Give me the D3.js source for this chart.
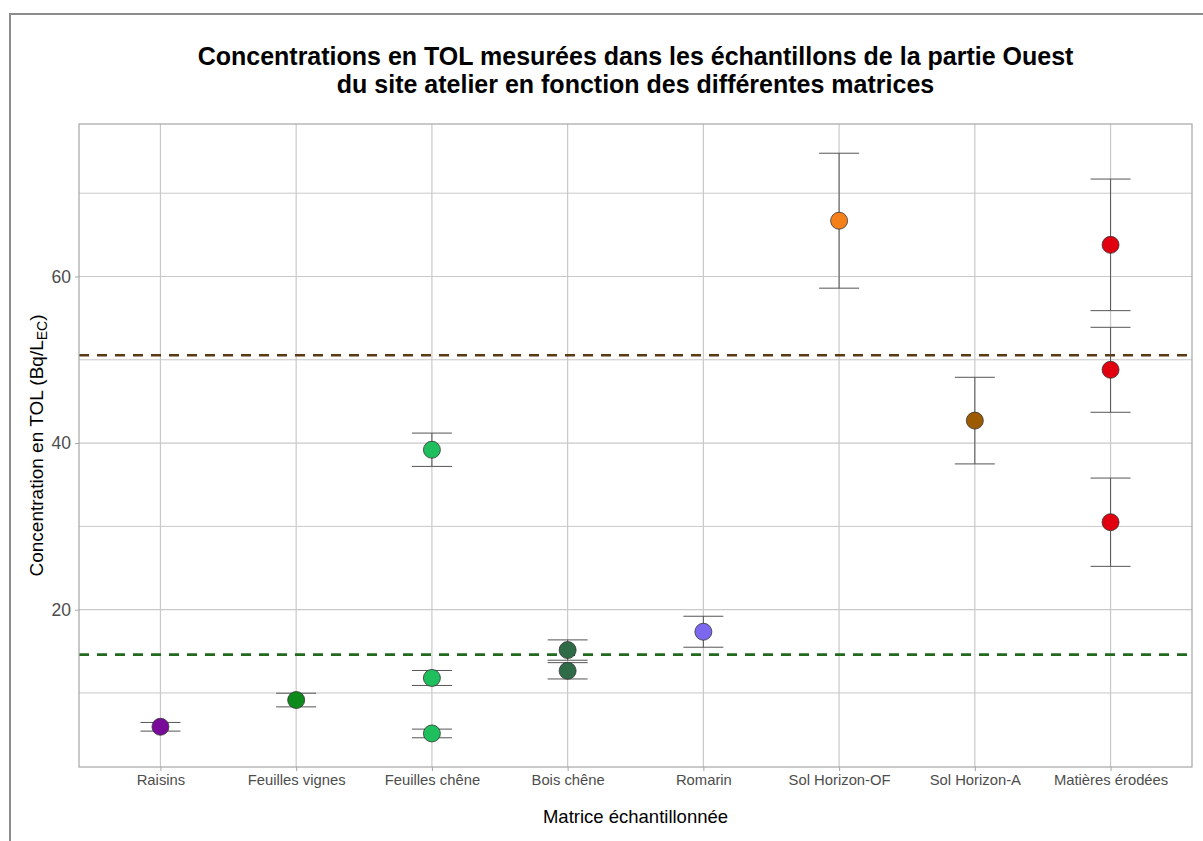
<!DOCTYPE html>
<html>
<head>
<meta charset="utf-8">
<script src="https://cdn.jsdelivr.net/npm/d3@7"></script>
<style>
  body { margin: 0; background: #fff; }
  svg { font-family: "Liberation Sans", Arial, sans-serif; }
</style>
</head>
<body>
<svg id="chart"></svg>
<script>
// categories on the x axis
const categories = ['Raisins', 'Feuilles vignes', 'Feuilles chêne', 'Bois chêne',
  'Romarin', 'Sol Horizon-OF', 'Sol Horizon-A', 'Matières érodées'];
const categoryColors = ['#7a0a9a', '#0c8a1c', '#1fbf5e', '#2e6b46',
  '#7b68ee', '#f5801a', '#9c5a02', '#e0000f'];

// measured samples (category, concentration, uncertainty)
const sampleCategory = ['Raisins', 'Feuilles vignes', 'Feuilles chêne', 'Feuilles chêne', 'Feuilles chêne',
  'Bois chêne', 'Bois chêne', 'Romarin', 'Sol Horizon-OF', 'Sol Horizon-A',
  'Matières érodées', 'Matières érodées', 'Matières érodées'];
const sampleValue = [5.94, 9.15, 39.2, 11.8, 5.14, 15.15, 12.66, 17.35, 66.7, 42.7, 63.8, 48.8, 30.5];
const sampleError = [0.52, 0.82, 2.0, 0.9, 0.52, 1.22, 0.98, 1.86, 8.1, 5.2, 7.9, 5.1, 5.3];

// reference levels (dashed lines)
const refValues = [50.55, 14.6];
const refColors = ['#5c3a14', '#23691f'];

const yTicks = [20, 40, 60];
const yMinor = [10, 30, 50, 70];

const samples = sampleValue.map((v, i) => ({cat: sampleCategory[i], value: v, err: sampleError[i]}));

const W = 1203, H = 841;
const margin = {top: 124, right: 11, bottom: 74, left: 79};
const width = W - margin.left - margin.right;
const height = H - margin.top - margin.bottom;

const svg = d3.select('#chart').attr('width', W).attr('height', H);

// outer frame
svg.append('rect')
  .attr('x', 10).attr('y', 14)
  .attr('width', W + 20).attr('height', H + 20)
  .attr('fill', 'none').attr('stroke', '#8c8c8c').attr('stroke-width', 2);

// title
const title = svg.append('text')
  .attr('text-anchor', 'middle')
  .attr('font-size', '25px')
  .attr('font-weight', 'bold')
  .attr('fill', '#000');
title.append('tspan').attr('x', margin.left + width / 2).attr('y', 65)
  .text('Concentrations en TOL mesurées dans les échantillons de la partie Ouest');
title.append('tspan').attr('x', margin.left + width / 2).attr('y', 93)
  .text('du site atelier en fonction des différentes matrices');

const g = svg.append('g').attr('transform', `translate(${margin.left},${margin.top})`);

// scales with ggplot-like expansion
const lo = d3.min(samples, d => d.value - d.err);
const hi = d3.max(samples, d => d.value + d.err);
const pad = (hi - lo) * 0.05;
const y = d3.scaleLinear().domain([lo - pad, hi + pad]).range([height, 0]);

const x = d3.scalePoint().domain(categories).range([0, width]).padding(0.6);

// grid
const gridColor = '#c9c9c9';
g.selectAll('.minor').data(yMinor).join('line')
  .attr('x1', 0).attr('x2', width)
  .attr('y1', d => y(d)).attr('y2', d => y(d))
  .attr('stroke', gridColor).attr('stroke-width', 1);
g.selectAll('.majorY').data(yTicks).join('line')
  .attr('x1', 0).attr('x2', width)
  .attr('y1', d => y(d)).attr('y2', d => y(d))
  .attr('stroke', gridColor).attr('stroke-width', 1.2);
g.selectAll('.majorX').data(categories).join('line')
  .attr('x1', d => x(d)).attr('x2', d => x(d))
  .attr('y1', 0).attr('y2', height)
  .attr('stroke', gridColor).attr('stroke-width', 1.2);

// reference dashed lines
g.selectAll('.ref').data(refValues).join('line')
  .attr('x1', 0).attr('x2', width)
  .attr('y1', d => y(d)).attr('y2', d => y(d))
  .attr('stroke', (d, i) => refColors[i])
  .attr('stroke-width', 2.6)
  .attr('stroke-dasharray', '10,8');

// error bars
const errColor = '#555';
const capHalf = 20;
g.selectAll('.errv').data(samples).join('line')
  .attr('x1', d => x(d.cat)).attr('x2', d => x(d.cat))
  .attr('y1', d => y(d.value + d.err)).attr('y2', d => y(d.value - d.err))
  .attr('stroke', errColor).attr('stroke-width', 1);
g.selectAll('.errt').data(samples).join('line')
  .attr('x1', d => x(d.cat) - capHalf).attr('x2', d => x(d.cat) + capHalf)
  .attr('y1', d => y(d.value + d.err)).attr('y2', d => y(d.value + d.err))
  .attr('stroke', errColor).attr('stroke-width', 1);
g.selectAll('.errb').data(samples).join('line')
  .attr('x1', d => x(d.cat) - capHalf).attr('x2', d => x(d.cat) + capHalf)
  .attr('y1', d => y(d.value - d.err)).attr('y2', d => y(d.value - d.err))
  .attr('stroke', errColor).attr('stroke-width', 1);

// points
g.selectAll('.pt').data(samples).join('circle')
  .attr('cx', d => x(d.cat))
  .attr('cy', d => y(d.value))
  .attr('r', 8.5)
  .attr('fill', d => categoryColors[categories.indexOf(d.cat)])
  .attr('stroke', '#333')
  .attr('stroke-width', 0.8);

// panel border
g.append('rect')
  .attr('width', width).attr('height', height)
  .attr('fill', 'none').attr('stroke', '#a6a6a6').attr('stroke-width', 1.2);

// axes
const yAxis = g.append('g')
  .call(d3.axisLeft(y).tickValues(yTicks).tickSize(4).tickPadding(4));
yAxis.select('.domain').remove();
yAxis.selectAll('line').attr('stroke', '#a6a6a6');
yAxis.selectAll('text').attr('font-size', '17.5px').attr('fill', '#4d4d4d')
  .attr('font-family', '"Liberation Sans", Arial, sans-serif');

const xAxis = g.append('g').attr('transform', `translate(0,${height})`)
  .call(d3.axisBottom(x).tickSize(4).tickPadding(3));
xAxis.select('.domain').remove();
xAxis.selectAll('line').attr('stroke', '#a6a6a6');
xAxis.selectAll('text').attr('font-size', '14.8px').attr('fill', '#4d4d4d')
  .attr('font-family', '"Liberation Sans", Arial, sans-serif');

// axis titles
svg.append('text')
  .attr('x', margin.left + width / 2).attr('y', 823)
  .attr('text-anchor', 'middle').attr('font-size', '18.5px').attr('fill', '#000')
  .text('Matrice échantillonnée');

const yl = svg.append('text')
  .attr('transform', `translate(43,${margin.top + height / 2}) rotate(-90)`)
  .attr('text-anchor', 'middle').attr('font-size', '19px').attr('fill', '#000');
yl.append('tspan').text('Concentration en TOL (Bq/L');
yl.append('tspan').attr('font-size', '14px').attr('dy', 4).text('EC');
yl.append('tspan').attr('dy', -4).text(')');
</script>
</body>
</html>
